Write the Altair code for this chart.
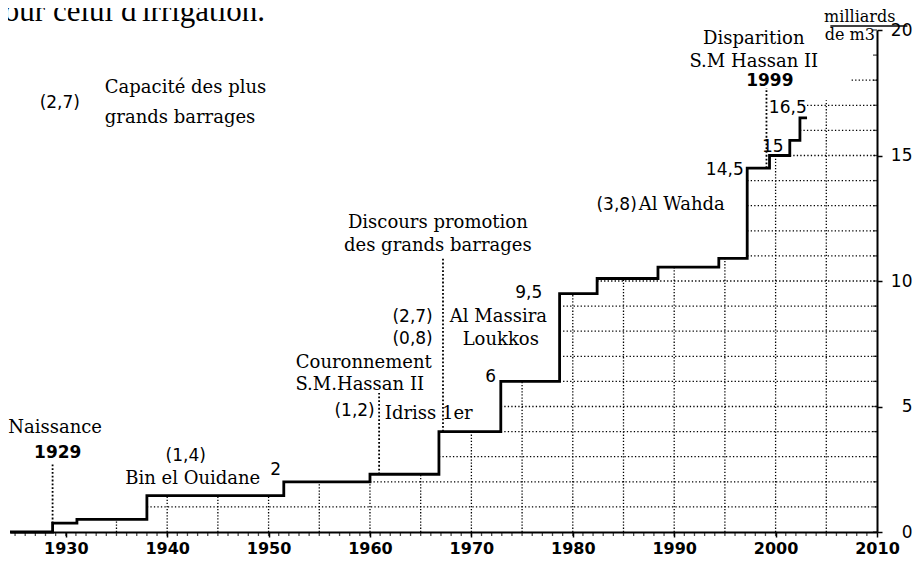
import altair as alt
import pandas as pd

# ---------------- data ----------------
# cumulative dam capacity (milliards de m3), step changes
step_years = [1924.5, 1928.7, 1931.1, 1938.0, 1951.5, 1960.0, 1966.8, 1972.9,
              1978.7, 1982.4, 1988.4, 1994.4, 1997.2, 1999.4, 2001.4, 2002.4, 2003.1]
step_levels = [0.0, 0.35, 0.5, 1.45, 2.0, 2.3, 4.0, 6.0,
               9.5, 10.1, 10.55, 10.9, 14.5, 15.0, 15.6, 16.5, 16.5]

# the dotted grid continues a little above the curve at the right end
grid_ext_years = [2003.1, 2007.5]
grid_ext_levels = [17.2, 18.2]

grid_years = list(range(1935, 2010, 5))
grid_values = list(range(1, 19))
x_minor_years = list(range(1925, 2010))
x_label_years = list(range(1930, 2011, 10))
y_label_values = [0, 5, 10, 15, 20]
y_minor_values = list(range(0, 21))

# event marker lines (dotted verticals)
event_years = [1928.7, 1960.9, 1967.2, 1999.1]
event_tops = [2.75, 5.54, 10.92, 17.69]

# annotations
serif_c_text = ["Naissance", "Bin el Ouidane", "Couronnement", "S.M.Hassan II",
                "Discours promotion", "des grands barrages", "Loukkos",
                "Disparition", "S.M Hassan II"]
serif_c_x = [1928.95, 1942.52, 1959.39, 1958.99, 1966.69, 1966.69, 1972.90,
             1997.85, 1997.85]
serif_c_y = [4.14, 2.11, 6.73, 5.86, 12.31, 11.39, 7.65, 19.64, 18.73]

unit_text = ["milliards", "de m3"]
unit_x = [2008.30, 2007.32]
unit_y = [20.50, 19.80]

serif_l_text = ["Idriss 1er", "Al Massira", "Al Wahda", "Capacité des plus", "grands barrages"]
serif_l_x = [1961.46, 1967.87, 1986.51, 1933.85, 1933.85]
serif_l_y = [4.70, 8.57, 13.03, 17.69, 16.49]

num_r_text = ["(1,2)", "(2,7)", "(0,8)", "(3,8)"]
num_r_x = [1960.47, 1966.19, 1966.19, 1986.31]
num_r_y = [4.82, 8.57, 7.69, 13.03]

num_c_text = ["(1,4)", "2", "9,5", "6", "14,5", "15", "16,5", "(2,7)"]
num_c_x = [1941.83, 1950.71, 1975.66, 1971.91, 1994.99, 1999.72, 2001.20, 1929.41]
num_c_y = [3.03, 2.47, 9.52, 6.18, 14.42, 15.34, 16.89, 17.09]

bold_text = ["1929", "1999"]
bold_x = [1929.21, 1999.43]
bold_y = [3.15, 17.97]

page_text = ["our celui d'irrigation."]
page_x = [1923.89]
page_y = [20.36]

underline_x = [2005.4]
underline_x2 = [2013.0]
underline_y = [20.16]

# ---------------- derived tables ----------------
curve_df = pd.DataFrame({"year": step_years, "level": step_levels})

ceil_years = step_years[:-1] + grid_ext_years
ceil_levels = step_levels[:-1] + grid_ext_levels


def level_at(yr, yrs, lvs):
    val = 0.0
    for a, b in zip(yrs, lvs):
        if a <= yr:
            val = b
    return val


vgrid_df = pd.DataFrame({
    "year": grid_years,
    "y0": [0.0] * len(grid_years),
    "y1": [level_at(g, ceil_years, ceil_levels) for g in grid_years],
})

h_rows = []
for k in grid_values:
    start = None
    for a, b in zip(ceil_years, ceil_levels):
        if b > k + 0.05:
            start = a
            break
    if start is not None:
        h_rows.append({"value": k, "x0": start, "x1": 2010})
hgrid_df = pd.DataFrame(h_rows)

event_df = pd.DataFrame({
    "year": event_years,
    "y0": [level_at(e, step_years[:-1], step_levels[:-1]) for e in event_years],
    "y1": event_tops,
})

xminor_df = pd.DataFrame({"year": x_minor_years, "zero": [0] * len(x_minor_years)})
yminor_df = pd.DataFrame({"value": y_minor_values, "right": [2010] * len(y_minor_values)})

XS = alt.Scale(domain=[1924.5, 2010], nice=False, zero=False)
YS = alt.Scale(domain=[0, 20], nice=False, zero=False)

XA = alt.Axis(
    values=x_label_years, format="d", title=None, grid=False,
    labelFont="DejaVu Sans", labelFontSize=16, labelFontWeight="bold",
    labelColor="black", labelFlush=False, labelOverlap=False,
    tickSize=5, tickWidth=1.5, tickColor="black",
    domainColor="black", domainWidth=2, labelPadding=3)
YA = alt.Axis(
    orient="right", values=y_label_values, title=None, grid=False,
    labelFont="DejaVu Sans", labelFontSize=17, labelColor="black",
    labelAlign="right", labelBaseline="middle", labelPadding=30,
    labelFlush=False, labelOverlap=False,
    tickSize=5, tickWidth=1.5, tickColor="black",
    domainColor="black", domainWidth=2)


def xe(field):
    return alt.X(field, type="quantitative", scale=XS, axis=XA, title=None)


def ye(field):
    return alt.Y(field, type="quantitative", scale=YS, axis=YA, title=None)


curve = alt.Chart(curve_df).mark_line(interpolate="step-after", color="black",
                                      strokeWidth=2.8).encode(
    x=xe("year"), y=ye("level"))

hgrid = alt.Chart(hgrid_df).mark_rule(color="black", strokeWidth=1.3, strokeDash=[1.3, 2.2]).encode(
    x=xe("x0"), x2="x1", y=ye("value"))

vgrid = alt.Chart(vgrid_df).mark_rule(color="black", strokeWidth=1.3, strokeDash=[1.3, 1.8]).encode(
    x=xe("year"), y=ye("y0"), y2="y1")

events = alt.Chart(event_df).mark_rule(color="black", strokeWidth=1.8, strokeDash=[1.8, 2]).encode(
    x=xe("year"), y=ye("y0"), y2="y1")

xminor = alt.Chart(xminor_df).mark_tick(orient="vertical", size=4, thickness=1.3,
                                         color="black", yOffset=2).encode(
    x=xe("year"), y=ye("zero"))

yminor = alt.Chart(yminor_df).mark_tick(orient="horizontal", size=4, thickness=1.3,
                                         color="black", xOffset=-2).encode(
    x=xe("right"), y=ye("value"))


def text_layer(texts, xs, ys, font, size, align, weight="normal", baseline="middle"):
    df = pd.DataFrame({"t": texts, "x": xs, "y": ys})
    return alt.Chart(df).mark_text(font=font, fontSize=size, fontWeight=weight,
                                   align=align, baseline=baseline, color="black").encode(
        x=xe("x"), y=ye("y"), text="t:N")


t1 = text_layer(serif_c_text, serif_c_x, serif_c_y, "DejaVu Serif", 18, "center")
t1b = text_layer(unit_text, unit_x, unit_y, "DejaVu Serif", 16, "center")
t2 = text_layer(serif_l_text, serif_l_x, serif_l_y, "DejaVu Serif", 18, "left")
t3 = text_layer(num_r_text, num_r_x, num_r_y, "DejaVu Sans", 17, "right")
t4 = text_layer(num_c_text, num_c_x, num_c_y, "DejaVu Sans", 17, "center")
t5 = text_layer(bold_text, bold_x, bold_y, "DejaVu Sans", 17, "center", weight="bold")
t6 = text_layer(page_text, page_x, page_y, "Liberation Serif", 31, "left", baseline="alphabetic")

ul = alt.Chart(pd.DataFrame({"x": underline_x, "x2": underline_x2, "y": underline_y})).mark_rule(
    color="black", strokeWidth=1.5).encode(x=xe("x"), x2="x2", y=ye("y"))

chart = alt.layer(curve, hgrid, vgrid, events, xminor, yminor,
                  t1, t1b, t2, t3, t4, t5, t6, ul).properties(
    width=867, height=502,
    background="white",
    autosize=alt.AutoSizeParams(type="none"),
    padding={"left": 2, "top": 22, "right": 36, "bottom": 24},
).configure_view(stroke=None)

chart.save("out.html", embed_options={"renderer": "svg", "actions": False})
